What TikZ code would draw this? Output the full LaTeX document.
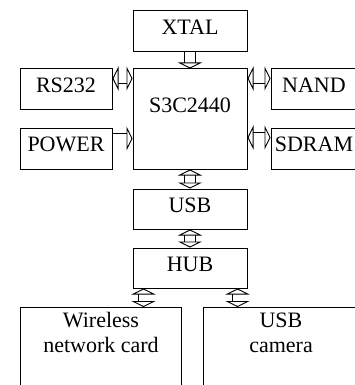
\documentclass[tikz,border=0pt]{standalone}
\usepackage{fontspec}
\setmainfont{Liberation Serif}
\usetikzlibrary{arrows.meta}

\tikzset{
  blk/.style={draw, line width=1pt, inner sep=0pt, text depth=8pt,
    font=\fontsize{22}{25}\selectfont},
  bus/.style={double, double distance=10pt, line width=0.9pt,
    {Triangle[open, length=6pt, width=24pt]}-{Triangle[open, length=6pt, width=24pt]}},
  busin/.style={double, double distance=10pt, line width=0.9pt,
    -{Triangle[open, length=6pt, width=24pt]}}
}

\begin{document}
\begin{tikzpicture}[x=1pt, y=-1pt]
    \useasboundingbox (0,0) rectangle (355,385);
    \clip (0,0) rectangle (355,385);

    % core and peripherals
    \node[blk, minimum width=114pt, minimum height=41pt] (xtal) at (190,31.5) {XTAL};
    \node[blk, minimum width=114pt, minimum height=100pt, text depth=27pt] (cpu) at (190,119) {S3C2440};
    \node[blk, minimum width=92pt, minimum height=41pt] (rs232) at (66,89.5) {RS232};
    \node[blk, minimum width=92pt, minimum height=41pt] (power) at (66,148.5) {POWER};
    \node[blk, minimum width=86pt, minimum height=41pt] (nand) at (314,89.5) {NAND};
    \node[blk, minimum width=86pt, minimum height=41pt] (sdram) at (314,148.5) {SDRAM};
    \node[blk, minimum width=114pt, minimum height=40pt] (usb) at (190,209) {USB};
    \node[blk, minimum width=114pt, minimum height=40pt] (hub) at (190,268) {HUB};

    % devices on the hub
    \node[blk, anchor=north west, minimum width=161pt, minimum height=90pt,
        label={[anchor=north, align=center, font=\fontsize{22}{25}\selectfont, yshift=-2pt]north:Wireless\\network card}]
        (wifi) at (20,307) {};
    \node[blk, anchor=north west, minimum width=155pt, minimum height=90pt,
        label={[anchor=north, align=center, font=\fontsize{22}{25}\selectfont, yshift=-2pt]north:USB\\camera}]
        (cam) at (203,307) {};

    % buses
    \draw[busin] (xtal) -- (cpu);
    \draw[bus] ([yshift=-10pt]rs232.north east) -- ([yshift=-10pt]rs232.north east -| cpu.west);
    \draw[busin] ([yshift=-11pt]power.north east) -- ([yshift=-11pt]power.north east -| cpu.west);
    \draw[bus] ([yshift=-10pt]nand.north west) -- ([yshift=-10pt]nand.north west -| cpu.east);
    \draw[bus] ([yshift=-10pt]sdram.north west) -- ([yshift=-10pt]sdram.north west -| cpu.east);
    \draw[bus] (cpu) -- (usb);
    \draw[bus] (usb) -- (hub);
    \draw[bus] ([xshift=11pt]hub.south west) -- ([xshift=11pt]hub.south west |- wifi.north);
    \draw[bus] ([xshift=-10pt]hub.south east) -- ([xshift=-10pt]hub.south east |- cam.north);
\end{tikzpicture}
\end{document}
